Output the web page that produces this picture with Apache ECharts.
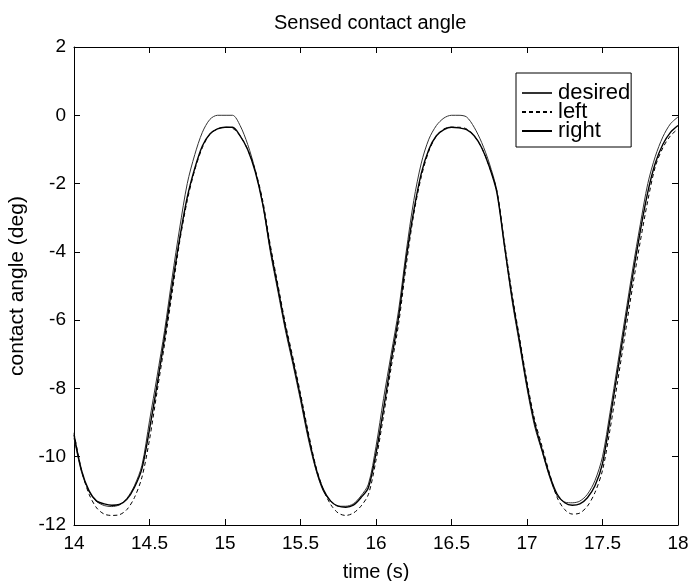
<!DOCTYPE html>
<html>
<head>
<meta charset="utf-8">
<script src="https://cdn.jsdelivr.net/npm/echarts@6/dist/echarts.min.js"></script>
<style>
html,body{margin:0;padding:0;background:#fff;}
#chart{width:692px;height:581px;}
</style>
</head>
<body>
<div id="chart"></div>
<script>
const titleText = "Sensed contact angle";
const xName = "time (s)";
const yName = "contact angle (deg)";
const seriesNames = ["desired", "left", "right"];

const times = [14.00,14.05,14.10,14.15,14.20,14.25,14.30,14.35,14.40,14.45,14.50,14.55,14.60,14.65,14.70,14.75,14.80,14.85,14.90,14.95,
15.00,15.05,15.10,15.15,15.20,15.25,15.30,15.35,15.40,15.45,15.50,15.55,15.60,15.65,15.70,15.75,15.80,15.85,15.90,15.95,
16.00,16.05,16.10,16.15,16.20,16.25,16.30,16.35,16.40,16.45,16.50,16.55,16.60,16.65,16.70,16.75,16.80,16.85,16.90,16.95,
17.00,17.05,17.10,17.15,17.20,17.25,17.30,17.35,17.40,17.45,17.50,17.55,17.60,17.65,17.70,17.75,17.80,17.85,17.90,17.95,18.00];

const desired = [-9.45,-10.45,-11.02,-11.31,-11.43,-11.46,-11.41,-11.22,-10.85,-10.25,-8.95,-7.65,-6.3,-4.75,-3.3,-2.0,-1.15,-0.5,-0.12,0.0,
0.0,0.0,-0.3,-0.85,-1.6,-2.6,-4.0,-5.15,-6.3,-7.3,-8.35,-9.45,-10.35,-11.0,-11.3,-11.45,-11.45,-11.38,-11.15,-10.8,
-9.7,-8.3,-7.0,-5.7,-4.0,-2.5,-1.4,-0.7,-0.3,-0.08,0.0,0.0,-0.05,-0.35,-0.8,-1.4,-2.2,-3.8,-5.4,-6.7,
-8.0,-9.1,-9.85,-10.6,-11.15,-11.33,-11.35,-11.3,-11.1,-10.7,-10.0,-8.7,-7.3,-5.9,-4.5,-3.2,-2.0,-1.2,-0.63,-0.25,-0.05];

const left = [-9.3,-10.4,-11.1,-11.5,-11.68,-11.72,-11.7,-11.55,-11.2,-10.6,-9.5,-8.1,-6.7,-5.2,-3.7,-2.5,-1.6,-0.95,-0.55,-0.4,
-0.35,-0.38,-0.6,-1.0,-1.6,-2.5,-3.8,-4.95,-6.1,-7.1,-8.15,-9.25,-10.25,-10.95,-11.4,-11.65,-11.72,-11.65,-11.45,-11.1,
-10.1,-8.8,-7.4,-6.1,-4.4,-2.9,-1.8,-1.05,-0.6,-0.4,-0.35,-0.35,-0.4,-0.6,-0.95,-1.5,-2.2,-3.7,-5.2,-6.5,
-7.8,-8.9,-9.7,-10.5,-11.2,-11.55,-11.68,-11.65,-11.45,-11.05,-10.4,-9.2,-7.8,-6.4,-5.0,-3.7,-2.5,-1.5,-0.95,-0.6,-0.4];

const right = [-9.35,-10.4,-11.0,-11.3,-11.38,-11.42,-11.4,-11.25,-10.9,-10.35,-9.2,-7.9,-6.5,-5.0,-3.6,-2.4,-1.55,-0.9,-0.55,-0.4,
-0.35,-0.35,-0.6,-1.0,-1.65,-2.6,-3.9,-5.05,-6.2,-7.2,-8.25,-9.35,-10.3,-10.95,-11.3,-11.45,-11.48,-11.42,-11.2,-10.9,
-9.9,-8.6,-7.2,-5.9,-4.2,-2.8,-1.7,-1.0,-0.6,-0.42,-0.35,-0.37,-0.42,-0.6,-0.95,-1.5,-2.25,-3.8,-5.3,-6.6,
-7.9,-9.0,-9.8,-10.55,-11.1,-11.35,-11.42,-11.38,-11.2,-10.85,-10.2,-8.9,-7.5,-6.1,-4.7,-3.4,-2.25,-1.4,-0.85,-0.5,-0.3];

const xMin = 14, xMax = 18, xStep = 0.5;
const yMin = -12, yMax = 2, yStep = 2;

const FONT = "'Liberation Sans', Arial, sans-serif";
const chart = echarts.init(document.getElementById('chart'), null, {renderer: 'canvas'});

const pair = arr => times.map((t, i) => [t, arr[i]]);
const tickStyle = {show: true, inside: true, length: 6, lineStyle: {color: '#000', width: 1}};
const lineAx = {show: true, onZero: false, lineStyle: {color: '#000', width: 1}};

chart.setOption({
  animation: false,
  backgroundColor: '#fff',
  title: {
    text: titleText, left: 269, top: 8,
    textStyle: {fontFamily: FONT, fontSize: 20, fontWeight: 'normal', color: '#000'}
  },
  grid: {left: 74, right: 14, top: 47, bottom: 56, containLabel: false, outerBoundsMode: 'none'},
  legend: {
    orient: 'vertical', left: 516, top: 73,
    data: seriesNames,
    itemWidth: 30, itemHeight: 10, itemGap: -3,
    padding: [9, 1, 5, 5],
    borderColor: '#000', borderWidth: 1, borderRadius: 0,
    backgroundColor: '#fff',
    itemStyle: {opacity: 0},
    textStyle: {fontFamily: FONT, fontSize: 22, color: '#000', padding: [0, 0, 0, 1]}
  },
  xAxis: [{
    type: 'value', min: xMin, max: xMax, interval: xStep, position: 'bottom',
    name: xName, nameLocation: 'middle', nameGap: 37,
    nameTextStyle: {fontFamily: FONT, fontSize: 20, color: '#000'},
    axisLine: lineAx, axisTick: tickStyle, splitLine: {show: false},
    axisLabel: {fontFamily: FONT, fontSize: 19, color: '#000', margin: 9}
  }, {
    type: 'value', min: xMin, max: xMax, interval: xStep, position: 'top',
    axisLine: lineAx, axisTick: tickStyle, splitLine: {show: false},
    axisLabel: {show: false}
  }],
  yAxis: [{
    type: 'value', min: yMin, max: yMax, interval: yStep, position: 'left',
    name: yName, nameLocation: 'middle', nameGap: 45,
    nameTextStyle: {fontFamily: FONT, fontSize: 21, color: '#000'},
    axisLine: lineAx, axisTick: tickStyle, splitLine: {show: false},
    axisLabel: {fontFamily: FONT, fontSize: 19, color: '#000', margin: 8}
  }, {
    type: 'value', min: yMin, max: yMax, interval: yStep, position: 'right',
    axisLine: lineAx, axisTick: tickStyle, splitLine: {show: false},
    axisLabel: {show: false}
  }],
  series: [{
    name: seriesNames[0], type: 'line', data: pair(desired), symbol: 'none', smooth: 0.3,
    lineStyle: {color: '#333', width: 1, type: 'solid'}, itemStyle: {color: '#333'}
  }, {
    name: seriesNames[1], type: 'line', data: pair(left), symbol: 'none', smooth: 0.3,
    lineStyle: {color: '#000', width: 1, type: [4, 3]}, itemStyle: {color: '#000'}
  }, {
    name: seriesNames[2], type: 'line', data: pair(right), symbol: 'none', smooth: 0.3,
    lineStyle: {color: '#000', width: 1.4, type: 'solid'}, itemStyle: {color: '#000'}
  }]
});
</script>
</body>
</html>
